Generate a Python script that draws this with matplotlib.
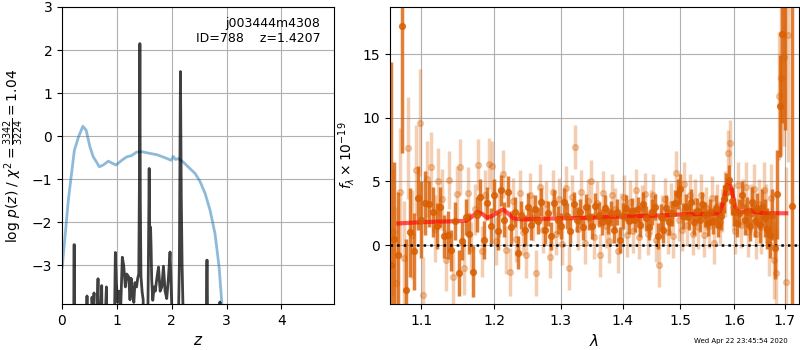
import numpy as np
import matplotlib
matplotlib.use('Agg')
import matplotlib.pyplot as plt
from matplotlib.ticker import FixedLocator, FixedFormatter, NullLocator

# ---- left panel: redshift fit ----
chi_z = [0.005, 0.115, 0.225, 0.30, 0.38, 0.44, 0.51, 0.57, 0.63, 0.68, 0.75, 0.845,
         0.905, 0.985, 1.09, 1.18, 1.27, 1.36, 1.455, 1.605, 1.73, 1.88, 1.99, 2.03,
         2.07, 2.12, 2.21, 2.30, 2.43, 2.52, 2.61, 2.70, 2.79, 2.865, 2.915]
chi_val = [-3.04, -1.49, -0.33, -0.02, 0.23, 0.14, -0.25, -0.48, -0.60, -0.71, -0.67, -0.58,
           -0.62, -0.67, -0.56, -0.48, -0.45, -0.37, -0.36, -0.40, -0.43, -0.50, -0.56, -0.47,
           -0.54, -0.52, -0.60, -0.71, -0.87, -1.06, -1.33, -1.72, -2.26, -3.04, -3.89]

pz_z = [0.00, 0.212, 0.218, 0.228, 0.234, 0.43, 0.456, 0.47, 0.52, 0.547, 0.565, 0.584,
        0.60, 0.64, 0.657, 0.672, 0.70, 0.724, 0.74, 0.78, 0.81, 0.83, 0.94, 0.973,
        0.99, 1.016, 1.04, 1.07, 1.10, 1.125, 1.155, 1.18, 1.217, 1.24, 1.26, 1.285,
        1.31, 1.33, 1.36, 1.38, 1.40, 1.412, 1.42, 1.428, 1.44, 1.46, 1.48, 1.50,
        1.55, 1.575, 1.59, 1.60, 1.615, 1.625, 1.635, 1.655, 1.68, 1.70, 1.73, 1.76,
        1.79, 1.82, 1.85, 1.88, 1.91, 1.94, 1.97, 2.00, 2.03, 2.10, 2.14, 2.16,
        2.175, 2.19, 2.205, 2.22, 2.24, 2.62, 2.64, 2.648, 2.66, 2.86, 2.88, 2.90]
pz_val = [-6.0, -6.0, -2.52, -2.52, -6.0, -6.0, -3.71, -6.0, -6.0, -3.74, -4.2, -3.64,
          -6.0, -4.2, -3.31, -6.0, -4.2, -3.47, -6.0, -4.5, -3.50, -6.0, -6.0, -2.70,
          -3.40, -3.86, -3.60, -4.0, -2.81, -3.00, -3.50, -3.20, -3.27, -3.80, -3.30, -3.60,
          -3.86, -3.40, -3.50, -3.30, -3.20, -1.0, 2.15, -1.5, -3.25, -3.60, -3.80, -6.0,
          -6.0, -3.0, -0.75, -2.60, -2.11, -2.60, -3.30, -3.81, -3.50, -3.60, -3.30, -3.04,
          -3.60, -3.50, -3.02, -3.60, -3.77, -3.30, -2.69, -3.90, -6.0, -6.0, -3.0, 1.50,
          -1.41, -3.00, -3.90, -6.0, -6.0, -6.0, -2.88, -2.88, -6.0, -6.0, -3.85, -6.0]

# ---- right panel: spectrum ----
d_lam = [1.060, 1.065, 1.070, 1.075, 1.080, 1.085, 1.090, 1.095, 1.100, 1.105,
         1.110, 1.115, 1.120, 1.125, 1.130, 1.135, 1.140, 1.145, 1.150, 1.155,
         1.160, 1.165, 1.170, 1.175, 1.180, 1.185, 1.190, 1.195, 1.200, 1.205,
         1.210, 1.215, 1.220, 1.225, 1.230, 1.235, 1.240, 1.245, 1.250, 1.255,
         1.260, 1.265, 1.270, 1.275, 1.280, 1.285, 1.290, 1.295, 1.300, 1.305,
         1.310, 1.315, 1.320, 1.325, 1.330, 1.335, 1.340, 1.345, 1.350, 1.355,
         1.360, 1.365, 1.370, 1.375, 1.380, 1.385, 1.390, 1.395, 1.400, 1.405,
         1.410, 1.415, 1.420, 1.425, 1.430, 1.435, 1.440, 1.445, 1.450, 1.455,
         1.460, 1.465, 1.470, 1.475, 1.480, 1.485, 1.490, 1.495, 1.500, 1.505,
         1.510, 1.515, 1.520, 1.525, 1.530, 1.535, 1.540, 1.545, 1.550, 1.555,
         1.560, 1.565, 1.570, 1.575, 1.580, 1.585, 1.590, 1.595, 1.600, 1.605,
         1.610, 1.615, 1.620, 1.625, 1.630, 1.635, 1.640, 1.645, 1.650, 1.655,
         1.660, 1.665, 1.670, 1.675, 1.680, 1.685, 1.690, 1.694, 1.700, 1.714]
d_flux = [-1.6, 0.5, -0.8, 17.2, -3.5, 1.0, -0.5, 3.7, 2.0, 3.3,
          3.2, 2.6, 1.5, 3.0, 0.7, 0.8, -0.4, 1.9, -2.2, 0.3,
          2.2, 0.9, -2.1, 2.4, 3.8, 0.4, 3.3, 1.5, 3.9, 1.1,
          4.3, 2.0, 4.2, 1.4, 2.6, -0.6, 2.4, 1.2, 3.0, 1.6,
          2.8, 1.9, 3.4, 1.2, 2.5, 0.7, 3.3, 2.0, 1.5, 3.4,
          2.3, 1.1, 3.2, 2.0, 2.6, 1.4, 3.0, 2.2, 1.5, 3.1,
          2.4, 1.8, 2.9, 1.9, 2.5, 1.2, 2.6, 0.4, 2.3, 2.9,
          1.9, 2.7, 2.0, 2.8, 1.6, 3.2, 2.1, 1.4, 2.6, 3.0,
          0.7, 2.2, 1.2, 2.9, 1.8, 2.5, 3.3, 4.0, 4.4, 2.3,
          3.0, 2.2, 3.4, 1.8, 2.7, 2.0, 3.2, 2.4, 1.7, 2.6,
          1.9, 2.9, 1.6, 2.3, 3.6, 4.6, 5.1, 3.5, 2.6, 1.7,
          2.5, 3.9, 2.0, 2.6, 1.5, 3.4, 1.9, 2.8, 1.6, 3.0,
          2.1, 1.3, 0.8, 2.4, -0.2, 4.0, 10.9, 16.6, 21.0, 3.1]
d_err = [16.0, 6.0, 5.0, 10.0, 4.0, 3.5, 3.0, 2.5, 3.0, 2.5,
         1.8, 2.0, 1.8, 1.6, 1.7, 1.9, 1.6, 1.5, 1.8, 1.5,
         1.4, 1.6, 2.0, 1.4, 1.4, 1.5, 1.3, 1.4, 1.3, 1.5,
         1.2, 1.4, 1.2, 1.3, 1.2, 1.3, 1.1, 1.2, 1.1, 1.2,
         1.1, 1.0, 1.1, 1.1, 1.0, 1.1, 1.0, 1.1, 1.0, 1.1,
         1.0, 1.0, 1.0, 1.0, 1.0, 1.0, 1.0, 1.0, 1.0, 1.0,
         1.0, 1.0, 1.0, 1.0, 1.0, 1.0, 1.0, 1.0, 1.0, 1.0,
         1.0, 1.0, 1.0, 1.0, 1.0, 1.0, 1.0, 1.0, 1.0, 1.0,
         1.0, 1.0, 1.0, 1.0, 1.0, 1.0, 1.0, 1.2, 1.2, 1.0,
         1.0, 1.0, 1.0, 1.0, 1.0, 1.0, 1.0, 1.0, 1.0, 1.0,
         1.0, 1.0, 1.0, 1.1, 1.1, 1.1, 1.2, 1.1, 1.1, 1.1,
         1.1, 1.1, 1.2, 1.2, 1.2, 1.2, 1.3, 1.3, 1.4, 1.4,
         1.5, 1.6, 1.8, 2.0, 2.5, 3.5, 4.0, 7.0, 12.0, 20.0]

l_lam = [1.0625, 1.0675, 1.0725, 1.0775, 1.0825, 1.0875, 1.0925, 1.0975, 1.1025, 1.1075,
         1.1125, 1.1175, 1.1225, 1.1275, 1.1325, 1.1375, 1.1425, 1.1475, 1.1525, 1.1575,
         1.1625, 1.1675, 1.1725, 1.1775, 1.1825, 1.1875, 1.1925, 1.1975, 1.2025, 1.2075,
         1.2125, 1.2175, 1.2225, 1.2275, 1.2325, 1.2375, 1.2425, 1.2475, 1.2525, 1.2575,
         1.2625, 1.2675, 1.2725, 1.2775, 1.2825, 1.2875, 1.2925, 1.2975, 1.3025, 1.3075,
         1.3125, 1.3175, 1.3225, 1.3275, 1.3325, 1.3375, 1.3425, 1.3475, 1.3525, 1.3575,
         1.3625, 1.3675, 1.3725, 1.3775, 1.3825, 1.3875, 1.3925, 1.3975, 1.4025, 1.4075,
         1.4125, 1.4175, 1.4225, 1.4275, 1.4325, 1.4375, 1.4425, 1.4475, 1.4525, 1.4575,
         1.4625, 1.4675, 1.4725, 1.4775, 1.4825, 1.4875, 1.4925, 1.4975, 1.5025, 1.5075,
         1.5125, 1.5175, 1.5225, 1.5275, 1.5325, 1.5375, 1.5425, 1.5475, 1.5525, 1.5575,
         1.5625, 1.5675, 1.5725, 1.5775, 1.5825, 1.5875, 1.5925, 1.5975, 1.6025, 1.6075,
         1.6125, 1.6175, 1.6225, 1.6275, 1.6325, 1.6375, 1.6425, 1.6475, 1.6525, 1.6575,
         1.6625, 1.6675, 1.6725, 1.6775, 1.6825, 1.6875, 1.6925, 1.6975, 1.7025, 1.7075]
l_flux = [1.0, -3.0, 4.2, -1.0, 7.6, 0.8, 5.9, 9.6, -3.9, 5.2,
          6.1, 1.3, 5.0, 3.6, -1.2, 5.1, -2.5, 4.0, 6.1, -1.8,
          4.1, -0.2, 2.8, 6.3, -0.5, 3.9, 6.4, 6.2, 0.3, 2.5,
          5.6, -0.4, -2.1, 3.5, 0.5, 4.1, 1.0, -0.8, 3.9, 2.1,
          -2.2, 4.6, 1.2, 3.2, -0.9, 4.2, 0.9, 3.6, 0.1, 4.5,
          -1.8, 3.8, 7.7, 1.3, 4.2, 0.2, 3.5, 5.0, 0.6, 3.3,
          -0.8, 4.1, 1.5, 0.3, 3.9, 2.8, -0.5, 2.4, 3.8, 0.8,
          3.4, 1.1, 4.3, 0.6, 3.0, 4.0, 0.9, 2.6, 3.9, 0.4,
          -1.6, 2.2, 3.6, 1.0, 3.2, 0.7, 5.7, 2.0, 1.2, 4.8,
          1.6, 3.9, 0.9, 3.5, 1.4, 3.9, 0.8, 2.9, 1.5, 3.7,
          0.2, 3.1, 1.8, 2.7, 4.0, 7.2, 8.0, 3.0, 1.1, 4.7,
          1.6, 3.4, 4.6, 1.0, 2.9, 4.4, 0.9, 3.2, 1.4, 4.3,
          2.5, 0.1, 3.7, -1.2, -2.2, 11.7, 13.1, 14.8, -2.9, 16.5]
l_err = [5.0, 6.0, 5.0, 4.5, 4.0, 3.5, 3.5, 4.2, 3.0, 3.0,
         2.8, 2.6, 2.6, 2.4, 2.4, 2.3, 2.2, 2.2, 2.2, 2.1,
         2.0, 2.0, 2.0, 2.0, 2.0, 2.0, 2.0, 2.0, 1.9, 1.9,
         1.9, 1.9, 1.9, 1.8, 1.8, 1.8, 1.8, 1.8, 1.8, 1.8,
         1.8, 1.8, 1.8, 1.8, 1.7, 1.7, 1.7, 1.7, 1.7, 1.7,
         1.7, 1.7, 1.7, 1.7, 1.7, 1.7, 1.7, 1.7, 1.7, 1.7,
         1.7, 1.7, 1.7, 1.7, 1.7, 1.7, 1.7, 1.7, 1.7, 1.7,
         1.7, 1.7, 1.7, 1.7, 1.7, 1.7, 1.7, 1.7, 1.7, 1.7,
         1.7, 1.7, 1.7, 1.7, 1.7, 1.7, 1.7, 1.7, 1.7, 1.7,
         1.7, 1.7, 1.7, 1.7, 1.7, 1.7, 1.7, 1.7, 1.7, 1.7,
         1.7, 1.7, 1.7, 1.7, 1.8, 1.8, 1.8, 1.8, 1.8, 1.8,
         1.8, 1.8, 1.9, 1.9, 1.9, 2.0, 2.0, 2.0, 2.1, 2.2,
         2.3, 2.5, 2.7, 3.0, 3.5, 5.0, 6.0, 7.0, 9.0, 10.0]

model_lam = [1.070, 1.100, 1.130, 1.160, 1.168, 1.176, 1.183, 1.190, 1.198, 1.206,
             1.213, 1.220, 1.228, 1.240, 1.300, 1.350, 1.400, 1.450, 1.500, 1.550,
             1.572, 1.578, 1.584, 1.590, 1.596, 1.602, 1.608, 1.615, 1.625, 1.632,
             1.640, 1.660, 1.703]
model_flux = [1.70, 1.80, 1.85, 1.90, 2.20, 2.60, 2.45, 2.15, 2.30, 2.60,
              2.80, 2.50, 2.10, 2.02, 2.10, 2.15, 2.25, 2.30, 2.40, 2.45,
              2.50, 3.20, 4.30, 5.00, 4.20, 3.00, 2.55, 2.55, 2.70, 2.75,
              2.60, 2.50, 2.50]

orange = '#d95f02'

fig = plt.figure(figsize=(8, 3.5), dpi=100)
ax1 = fig.add_axes([0.0775, 0.131, 0.34, 0.849])
ax2 = fig.add_axes([0.4875, 0.131, 0.511, 0.849])

ax1.plot(chi_z, chi_val, color='C0', alpha=0.5, lw=2)
ax1.plot(pz_z, pz_val, color='k', alpha=0.75, lw=2)
ax1.set_xlim(0, 4.96)
ax1.set_ylim(-3.9, 3.0)
ax1.set_xticks([0, 1, 2, 3, 4])
ax1.set_yticks([-3, -2, -1, 0, 1, 2, 3])
ax1.grid(True)
ax1.set_xlabel('$z$', fontsize=11)
ax1.set_ylabel(r'log $p(z)$ / $\chi^2=\frac{3342}{3224}=1.04$', fontsize=10)
ax1.text(0.95, 0.965, 'j003444m4308\nID=788    z=1.4207', transform=ax1.transAxes,
         ha='right', va='top', fontsize=9)

ax2.errorbar(l_lam, l_flux, yerr=l_err, color=orange, alpha=0.3, marker='o', ms=4.2,
             linestyle='None', elinewidth=2.5)
ax2.errorbar(d_lam, d_flux, yerr=d_err, color=orange, alpha=0.8, marker='o', ms=4.2,
             linestyle='None', elinewidth=2.5)
ax2.plot(model_lam, model_flux, color='r', alpha=0.65, lw=3)
ax2.axhline(0, color='k', linestyle=':', lw=1.8)
ax2.set_xscale('log')
ax2.set_xlim(1.0593, 1.7288)
ax2.set_ylim(-4.64, 18.7)
ax2.xaxis.set_major_locator(FixedLocator([1.1, 1.2, 1.3, 1.4, 1.5, 1.6, 1.7]))
ax2.xaxis.set_major_formatter(FixedFormatter(['1.1', '1.2', '1.3', '1.4', '1.5', '1.6', '1.7']))
ax2.xaxis.set_minor_locator(NullLocator())
ax2.set_yticks([0, 5, 10, 15])
ax2.grid(True)
ax2.set_xlabel(r'$\lambda$', fontsize=11)
ax2.set_ylabel(r'$f_\lambda\times10^{-19}$', fontsize=10)

for ax in (ax1, ax2):
    ax.tick_params(labelsize=10)

fig.text(0.985, 0.025, 'Wed Apr 22 23:45:54 2020', ha='right', va='center', fontsize=5)

fig.savefig('out.png', dpi=100)
